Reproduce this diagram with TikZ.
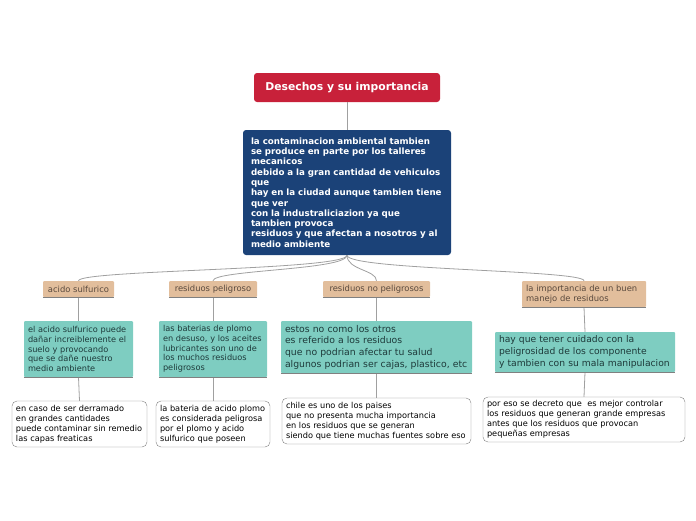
\documentclass[tikz,border=0pt]{standalone}
\usepackage{fontspec}
\setmainfont{DejaVu Sans}
\usepackage{xcolor}
\usepackage{tikz}
\usetikzlibrary{positioning}
\definecolor{titleColor}{HTML}{C8213A}
\definecolor{mainColor}{HTML}{1B4278}
\definecolor{topicColor}{HTML}{E2BE9C}
\definecolor{topicText}{HTML}{5A4A3E}
\definecolor{detailColor}{HTML}{7ECDC1}
\definecolor{detailText}{HTML}{1E3A3A}
\definecolor{lineColor}{HTML}{A0A0A0}

\tikzset{
    titlebox/.style={rectangle, rounded corners=3pt, fill=titleColor, text=white, inner sep=0pt, align=center, font=\fontsize{10.8}{12}\selectfont\bfseries},
    mainbox/.style={rectangle, rounded corners=3pt, fill=mainColor, text=white, inner xsep=8pt, inner ysep=0pt, align=left, font=\fontsize{8.7}{10.3}\selectfont\bfseries},
    topicbox/.style={rectangle, rounded corners=1pt, fill=topicColor, text=topicText, inner xsep=4pt, inner ysep=0pt, align=left, font=\fontsize{8.4}{10.5}\selectfont},
    detailbox/.style={rectangle, rounded corners=1pt, fill=detailColor, text=detailText, inner xsep=4pt, inner ysep=0pt, align=left, font=\fontsize{8.2}{9.7}\selectfont},
    notebox/.style={rectangle, rounded corners=5pt, draw=lineColor!80!black, fill=white, text=black, inner xsep=4pt, inner ysep=0pt, align=left, font=\fontsize{8.2}{10}\selectfont},
    link/.style={draw=lineColor, line width=0.8pt},
    underline/.style={draw=lineColor!80!black, line width=0.8pt}
}

\begin{document}
\begin{tikzpicture}[x=1pt, y=-1pt]
    \useasboundingbox (0,0) rectangle (696,520);

    % central topic
    \node[titlebox, minimum width=186pt, minimum height=29pt] (title) at (347,87.5) {Desechos y su importancia};

    \node[mainbox, text width=192pt, minimum height=125pt] (main) at (347,192.5) {
        la contaminacion ambiental tambien\\
        se produce en parte por los talleres\\
        mecanicos\\
        debido a la gran cantidad de vehiculos\\
        que\\
        hay en la ciudad aunque tambien tiene\\
        que ver\\
        con la industraliciazion ya que\\
        tambien provoca\\
        residuos y que afectan a nosotros y al\\
        medio ambiente};

    % topics
    \node[topicbox, minimum width=71pt, minimum height=16pt] (acido) at (78.5,289) {acido sulfurico};
    \node[topicbox, minimum width=88pt, minimum height=16pt] (peligroso) at (213,289) {residuos peligroso};
    \node[topicbox, minimum width=107pt, minimum height=16pt] (nopeligroso) at (376.5,289) {residuos no peligrosos};
    \node[topicbox, text width=116pt, minimum height=26pt] (manejo) at (584,294) {la importancia de un buen\\manejo de residuos};

    % details
    \node[detailbox, text width=101pt, minimum height=56pt] (acidoA) at (78.5,349) {
        el acido sulfurico puede\\
        dañar increiblemente el\\
        suelo y provocando\\
        que se dañe nuestro\\
        medio ambiente};
    \node[detailbox, text width=100pt, minimum height=56pt] (peligrosoA) at (213,349) {
        las baterias de plomo\\
        en desuso, y los aceites\\
        lubricantes son uno de\\
        los muchos residuos\\
        peligrosos};
    \node[detailbox, text width=183pt, minimum height=52pt, font=\fontsize{9.3}{11.7}\selectfont] (nopeligrosoA) at (376.5,347) {
        estos no como los otros\\
        es referido a los residuos\\
        que no podrian afectar tu salud\\
        algunos podrian ser cajas, plastico, etc};
    \node[detailbox, text width=172pt, minimum height=40pt, font=\fontsize{9.2}{12}\selectfont] (manejoA) at (585,352) {
        hay que tener cuidado con la\\
        peligrosidad de los componente\\
        y tambien con su mala manipulacion};

    % notes
    \node[notebox, text width=127pt, minimum height=46pt] (acidoB) at (79.5,424) {
        en caso de ser derramado\\
        en grandes cantidades\\
        puede contaminar sin remedio\\
        las capas freaticas};
    \node[notebox, text width=106pt, minimum height=46pt] (peligrosoB) at (213,424) {
        la bateria de acido plomo\\
        es considerada peligrosa\\
        por el plomo y acido\\
        sulfurico que poseen};
    \node[notebox, text width=181pt, minimum height=46pt] (nopeligrosoB) at (376.5,421) {
        chile es uno de los paises\\
        que no presenta mucha importancia\\
        en los residuos que se generan\\
        siendo que tiene muchas fuentes sobre eso};
    \node[notebox, text width=194pt, minimum height=45pt] (manejoB) at (584,419.5) {
        por eso se decreto que \ es mejor controlar\\
        los residuos que generan grande empresas\\
        antes que los residuos que provocan\\
        pequeñas empresas};

    % connectors
    \draw[link] (title) -- (main);
    \foreach \t in {acido, peligroso, nopeligroso, manejo}
        \draw[link] (main.south) .. controls +(0,15) and +(0,-11) .. (\t.north);
    \foreach \t in {acido, peligroso, nopeligroso, manejo} {
        \draw[link] (\t.south) -- (\t A.north);
        \draw[link] (\t A.south) -- (\t B.north);
        \draw[underline] (\t.south west) -- (\t.south east);
        \draw[underline] (\t A.south west) -- (\t A.south east);
    }
\end{tikzpicture}
\end{document}
